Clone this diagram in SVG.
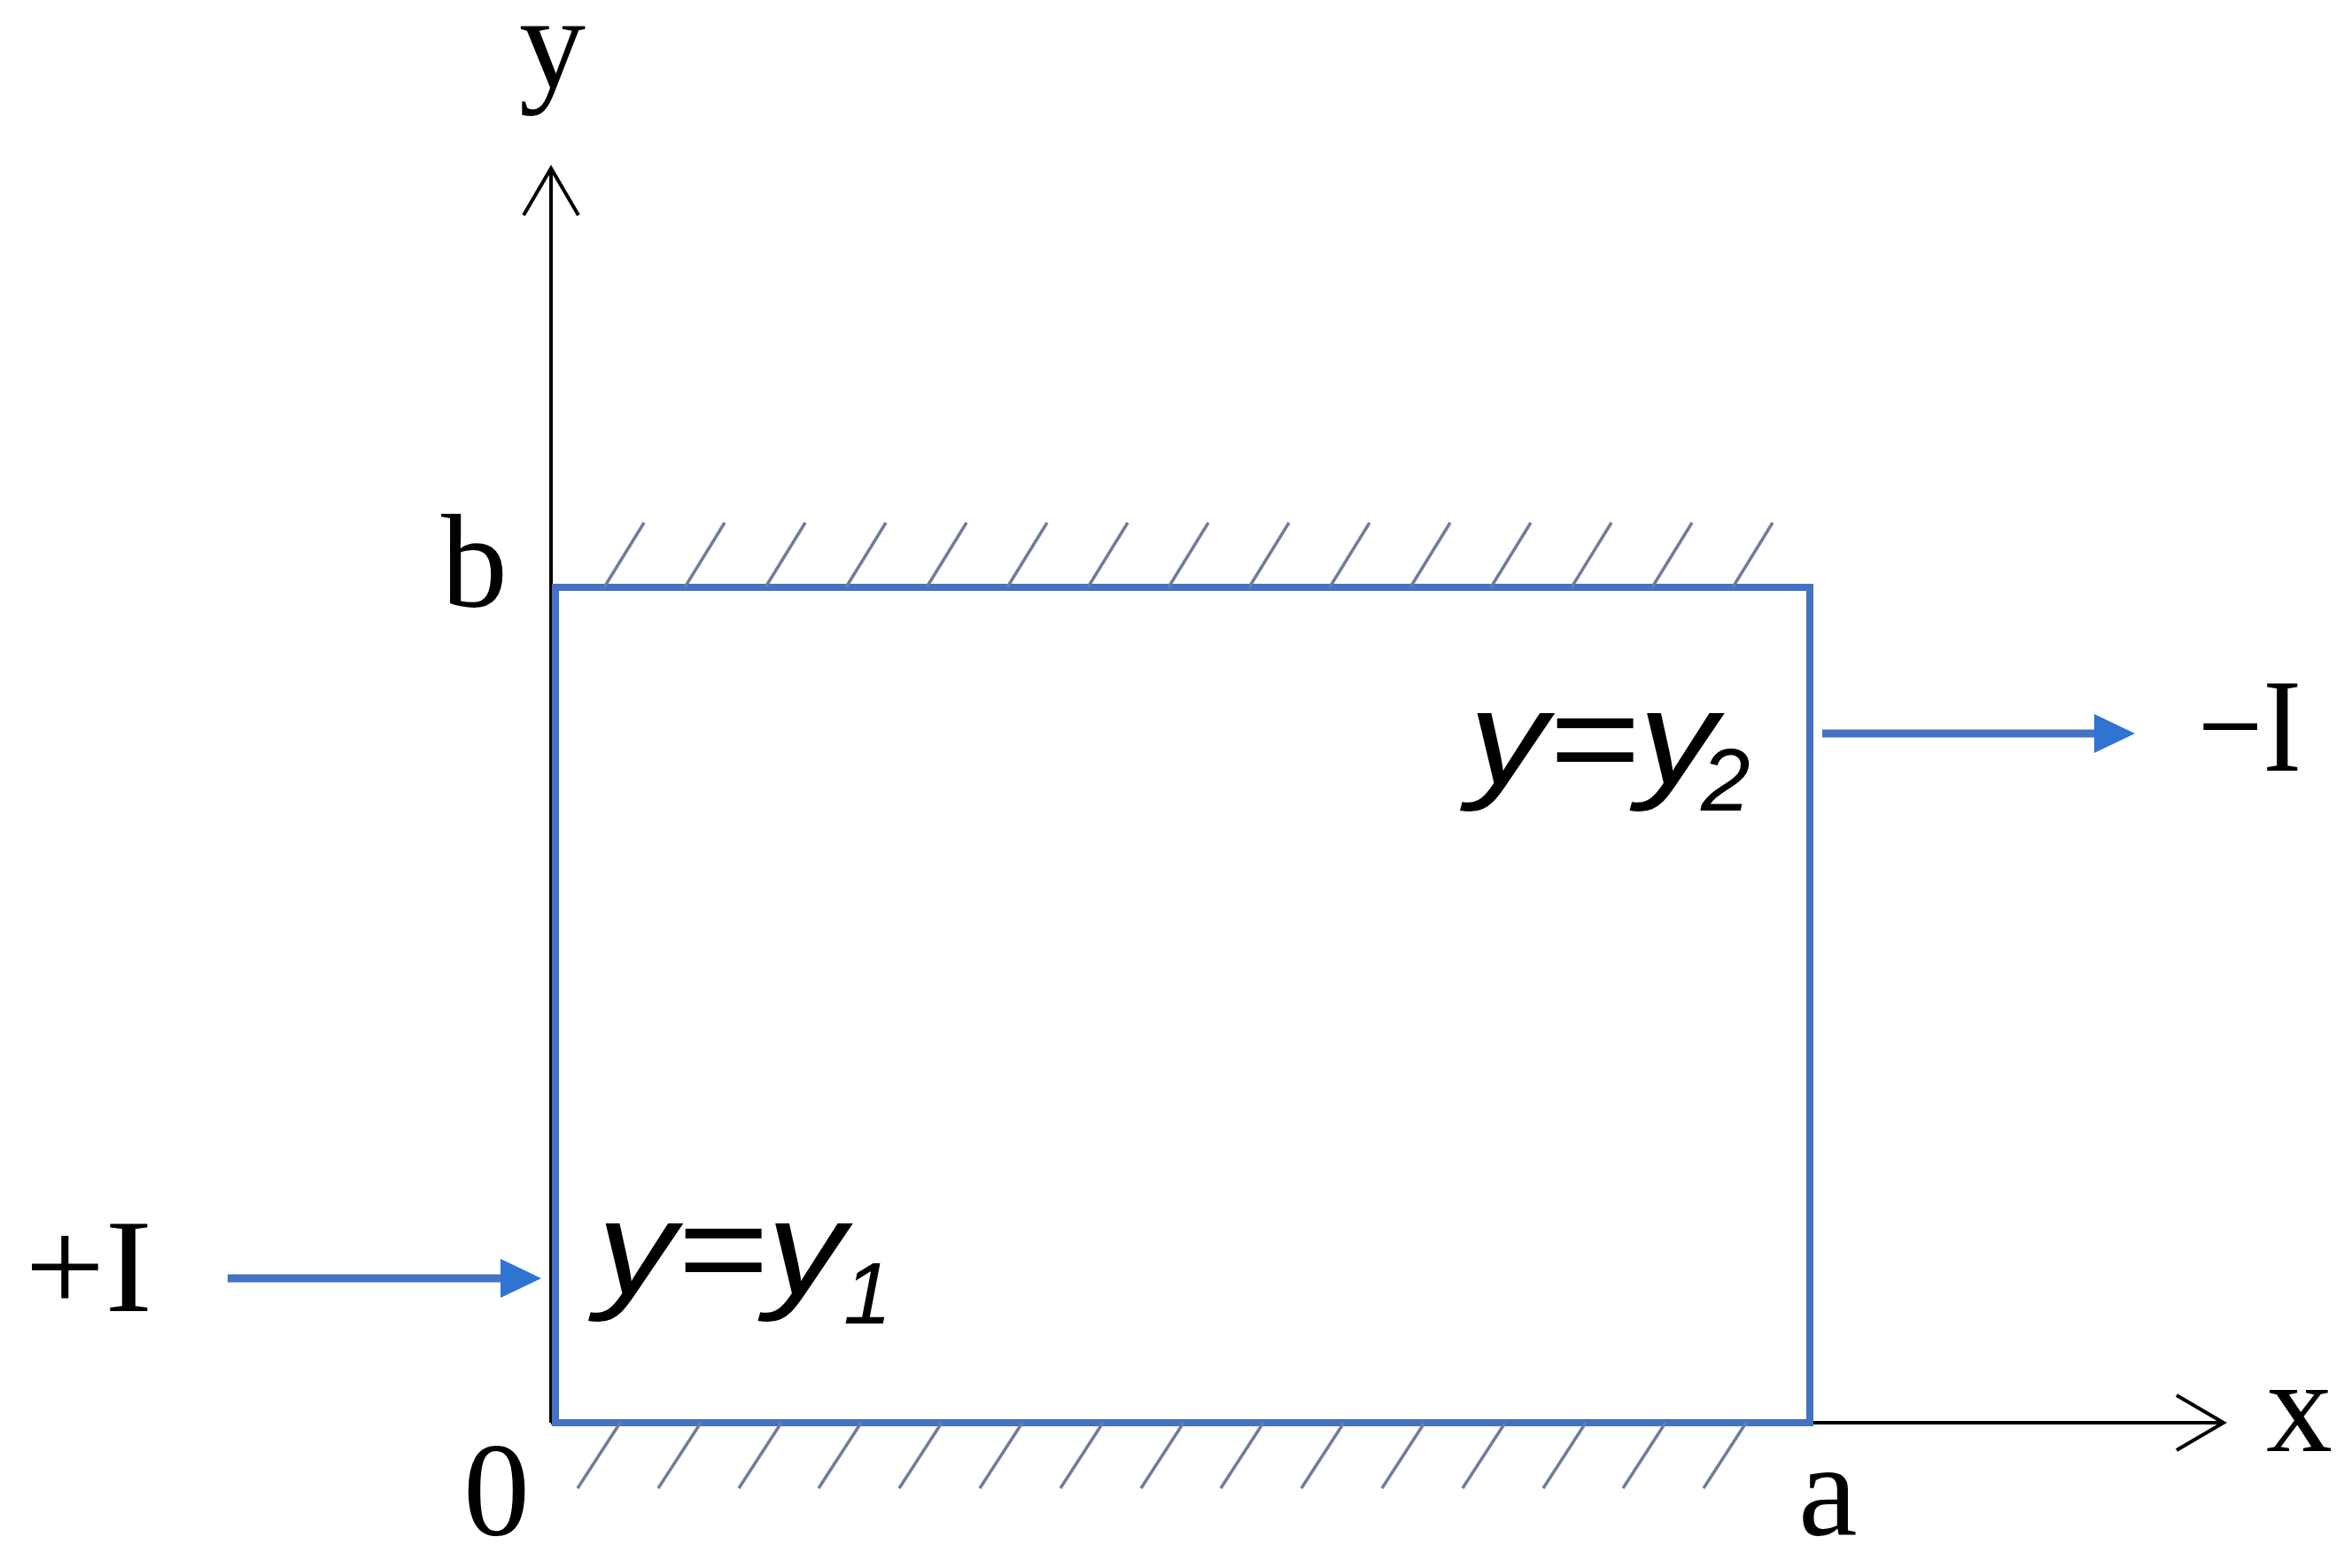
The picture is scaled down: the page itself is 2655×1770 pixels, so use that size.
<svg xmlns="http://www.w3.org/2000/svg" width="2655" height="1770" viewBox="0 0 2655 1770">
<style>
.lbl{font-family:"Liberation Serif","Times New Roman",serif;font-size:150px;fill:#000}
.eq{font-family:"Liberation Sans",Arial,sans-serif;font-style:italic;fill:#000}
.axis{stroke:#000;stroke-width:4;fill:none}
.cur{stroke:#4472C4;stroke-width:9;fill:none}
.hatch{stroke:#707C9A;stroke-width:3.5;fill:none}
.plate{fill:#fff;stroke:#4472C4;stroke-width:8}
</style>
<defs>
<marker id="chev" viewBox="-58 -36 62 72" refX="0" refY="0" markerWidth="62" markerHeight="72" markerUnits="userSpaceOnUse" orient="auto" overflow="visible">
<path d="M-53,-31 L0,0 L-53,31" fill="none" stroke="#000" stroke-width="4"/>
</marker>
<marker id="tri" viewBox="0 0 46 44" refX="0" refY="22" markerWidth="46" markerHeight="44" markerUnits="userSpaceOnUse" orient="auto">
<path d="M0,0 L46,22 L0,44 z" fill="#2F74D0"/>
</marker>
</defs>
<rect width="2655" height="1770" fill="#fff"/>
<g id="connectors">
<line id="y-axis" class="axis" x1="622" y1="1606" x2="622" y2="190" marker-end="url(#chev)"/>
<line id="x-axis" class="axis" x1="622" y1="1606" x2="2510" y2="1606" marker-end="url(#chev)"/>
</g>
<g id="plate">
<rect class="plate" x="627" y="663" width="1416" height="943"/>
<g id="hatch-top" class="hatch">
<line x1="682" y1="663" x2="727" y2="590"/>
<line x1="773" y1="663" x2="818" y2="590"/>
<line x1="864" y1="663" x2="909" y2="590"/>
<line x1="955" y1="663" x2="1000" y2="590"/>
<line x1="1046" y1="663" x2="1091" y2="590"/>
<line x1="1137" y1="663" x2="1182" y2="590"/>
<line x1="1228" y1="663" x2="1273" y2="590"/>
<line x1="1319" y1="663" x2="1364" y2="590"/>
<line x1="1410" y1="663" x2="1455" y2="590"/>
<line x1="1501" y1="663" x2="1546" y2="590"/>
<line x1="1592" y1="663" x2="1637" y2="590"/>
<line x1="1683" y1="663" x2="1728" y2="590"/>
<line x1="1774" y1="663" x2="1819" y2="590"/>
<line x1="1865" y1="663" x2="1910" y2="590"/>
<line x1="1956" y1="663" x2="2001" y2="590"/>
</g>
<g id="hatch-bottom" class="hatch">
<line x1="700" y1="1606" x2="652" y2="1680"/>
<line x1="791" y1="1606" x2="743" y2="1680"/>
<line x1="882" y1="1606" x2="834" y2="1680"/>
<line x1="972" y1="1606" x2="924" y2="1680"/>
<line x1="1063" y1="1606" x2="1015" y2="1680"/>
<line x1="1154" y1="1606" x2="1106" y2="1680"/>
<line x1="1245" y1="1606" x2="1197" y2="1680"/>
<line x1="1336" y1="1606" x2="1288" y2="1680"/>
<line x1="1426" y1="1606" x2="1378" y2="1680"/>
<line x1="1517" y1="1606" x2="1469" y2="1680"/>
<line x1="1608" y1="1606" x2="1560" y2="1680"/>
<line x1="1699" y1="1606" x2="1651" y2="1680"/>
<line x1="1790" y1="1606" x2="1742" y2="1680"/>
<line x1="1880" y1="1606" x2="1832" y2="1680"/>
<line x1="1971" y1="1606" x2="1923" y2="1680"/>
</g>
</g>
<g id="current-arrows">
<line id="arrow-in" class="cur" x1="257" y1="1443" x2="565" y2="1443" marker-end="url(#tri)"/>
<line id="arrow-out" class="cur" x1="2057" y1="828" x2="2364" y2="828" marker-end="url(#tri)"/>
</g>
<g id="label-y"><text class="lbl" x="586" y="99" font-size="152">y</text></g>
<g id="label-x"><text class="lbl" x="2558" y="1638" font-size="146">x</text></g>
<g id="label-b"><text class="lbl" x="498" y="685" font-size="154">b</text></g>
<g id="label-0"><text class="lbl" x="523" y="1733">0</text></g>
<g id="label-a"><text class="lbl" x="2030" y="1733">a</text></g>
<g id="label-plusI"><text class="lbl" x="28" y="1480" textLength="144" lengthAdjust="spacingAndGlyphs">+I</text></g>
<g id="label-minusI"><text class="lbl" x="2481" y="870" textLength="117" lengthAdjust="spacingAndGlyphs">−I</text></g>
<g id="label-y1">
<text class="eq" x="674" y="1461" font-size="150" textLength="280" lengthAdjust="spacingAndGlyphs">y=y</text>
<text class="eq" x="952" y="1494" font-size="98">1</text>
</g>
<g id="label-y2">
<text class="eq" x="1658" y="885" font-size="150" textLength="280" lengthAdjust="spacingAndGlyphs">y=y</text>
<text class="eq" x="1920" y="915" font-size="100">2</text>
</g>
</svg>
